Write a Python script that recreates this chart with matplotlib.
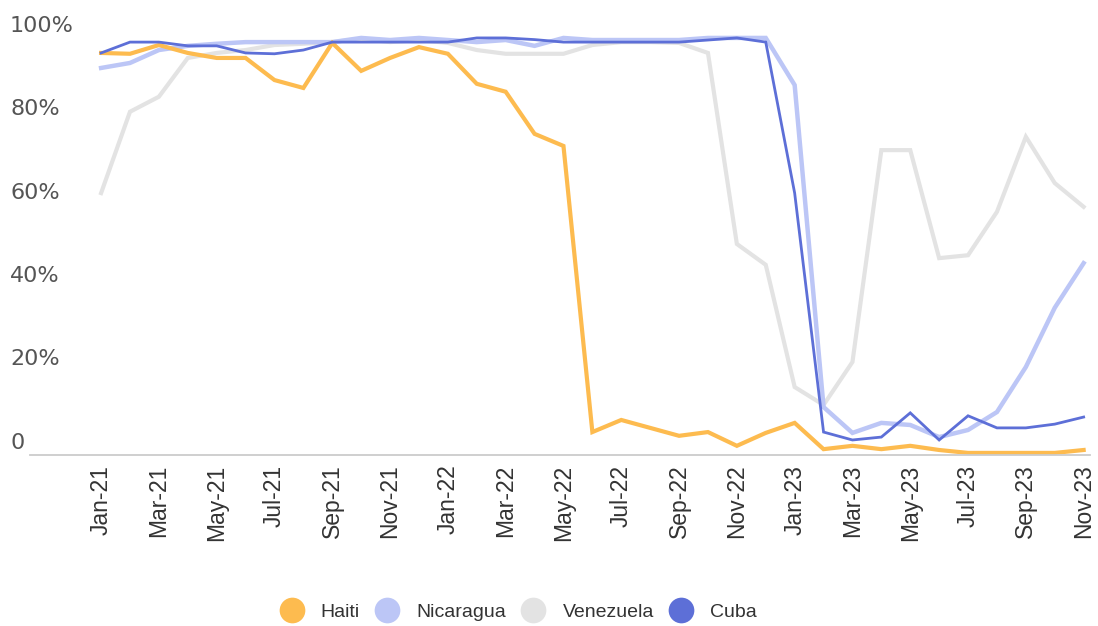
import matplotlib
matplotlib.use("Agg")
import matplotlib.pyplot as plt
from matplotlib.lines import Line2D

# months shown on the x axis (every other one gets a label)
months = ['Jan-21', 'Feb-21', 'Mar-21', 'Apr-21', 'May-21', 'Jun-21', 'Jul-21',
          'Aug-21', 'Sep-21', 'Oct-21', 'Nov-21', 'Dec-21', 'Jan-22', 'Feb-22',
          'Mar-22', 'Apr-22', 'May-22', 'Jun-22', 'Jul-22', 'Aug-22', 'Sep-22',
          'Oct-22', 'Nov-22', 'Dec-22', 'Jan-23', 'Feb-23', 'Mar-23', 'Apr-23',
          'May-23', 'Jun-23', 'Jul-23', 'Aug-23', 'Sep-23', 'Oct-23', 'Nov-23']

# share (%) per month
haiti = [96.4, 96.2, 98.3, 96.4, 95.2, 95.2, 89.9, 88.0, 98.8, 92.1, 95.2, 97.8,
         96.2, 89.0, 87.1, 77.0, 74.1, 5.5, 8.4, 6.5, 4.6, 5.5, 2.2, 5.3,
         7.7, 1.4, 2.2, 1.4, 2.2, 1.2, 0.5, 0.5, 0.5, 0.5, 1.2]
nicaragua = [92.8, 94.0, 97.1, 98.1, 98.6, 99.0, 99.0, 99.0, 99.0, 100.0, 99.5, 100.0,
             99.5, 99.0, 99.5, 98.1, 100.0, 99.5, 99.5, 99.5, 99.5, 100.0, 100.0, 100.0,
             88.7, 11.5, 5.3, 7.7, 7.2, 4.3, 6.0, 10.3, 21.1, 35.3, 46.0]
venezuela = [62.8, 82.3, 85.9, 95.2, 96.4, 97.1, 98.3, 98.6, 99.0, 99.8, 99.0, 99.5,
             98.8, 97.1, 96.2, 96.2, 96.2, 98.3, 99.0, 99.0, 98.8, 96.4, 50.6, 45.6,
             16.3, 12.0, 22.3, 73.1, 73.1, 47.2, 47.9, 58.3, 76.3, 65.2, 59.5]
cuba = [96.4, 99.0, 99.0, 98.1, 98.1, 96.4, 96.2, 97.1, 99.0, 99.0, 99.0, 99.0,
        99.0, 100.0, 100.0, 99.6, 99.0, 99.0, 99.0, 99.0, 99.0, 99.5, 100.0, 99.0,
        62.8, 5.5, 3.6, 4.3, 10.1, 3.6, 9.4, 6.5, 6.5, 7.4, 9.1]

series = [('Venezuela', venezuela, '#e3e3e3', 3.0),
          ('Nicaragua', nicaragua, '#bcc6f6', 3.2),
          ('Haiti', haiti, '#fdbb4f', 3.0),
          ('Cuba', cuba, '#5d6fd7', 2.0)]
legend_order = ['Haiti', 'Nicaragua', 'Venezuela', 'Cuba']

fig = plt.figure(figsize=(10.98, 6.26), dpi=100)
ax = fig.add_axes([30 / 1098, 171 / 626, 1060 / 1098, 435 / 626])

x = list(range(len(months)))
for name, vals, color, lw in series:
    ax.plot(x, vals, color=color, lw=lw, solid_joinstyle='miter', label=name)

ax.set_xlim(-2.46, 34.22)
ax.set_ylim(0, 104.3)

for side in ['top', 'right', 'left']:
    ax.spines[side].set_visible(False)
ax.spines['bottom'].set_color('#cccccc')
ax.spines['bottom'].set_linewidth(1.3)

ax.set_xticks(x[::2])
ax.set_xticklabels(months[::2], rotation=90, fontsize=16.5,
                   family=['Liberation Sans', 'DejaVu Sans'], color='#333333')
ax.tick_params(axis='x', length=0, pad=7)
ax.set_yticks([])

# y labels sit just above their (invisible) gridlines, flush left
for v in [0, 20, 40, 60, 80, 100]:
    lab = '0' if v == 0 else f'{v}%'
    ax.annotate(lab, xy=(10 / 1098, v), xycoords=('figure fraction', 'data'),
                xytext=(0, 4.5), textcoords='offset points', ha='left',
                va='baseline', fontsize=16, color='#555555')

handles = []
for name in legend_order:
    color = [s[2] for s in series if s[0] == name][0]
    handles.append(Line2D([], [], ls='none', marker='o', markersize=18.5,
                          markerfacecolor=color, markeredgecolor='none'))
fig.legend(handles, legend_order, loc='center', ncol=4,
           bbox_to_anchor=(518 / 1098, 1 - 612 / 626), frameon=False,
           handlelength=1.3, handletextpad=0.85, columnspacing=0.75,
           prop={'family': ['Liberation Sans Narrow', 'Liberation Sans'], 'size': 14},
           labelcolor='#333333')

fig.savefig('out.png', dpi=100)
